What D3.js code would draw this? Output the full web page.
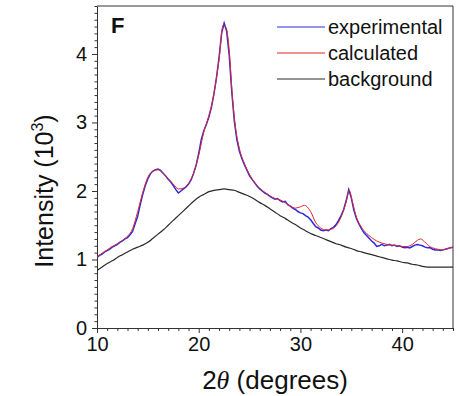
<!DOCTYPE html>
<html>
<head>
<meta charset="utf-8">
<script src="https://cdn.jsdelivr.net/npm/d3@7"></script>
<style>
  html, body { margin: 0; padding: 0; background: #fff; }
  svg { display: block; font-family: "Liberation Sans", Arial, sans-serif; }
</style>
</head>
<body>
<svg id="chart" width="460" height="396"></svg>
<script>
// X-ray diffraction pattern: experimental, calculated and background intensity (10^3 counts)
const expAngle = [10.00,10.25,10.50,10.75,11.00,11.25,11.50,11.75,12.00,12.25,12.50,12.75,13.00,13.25,13.50,13.75,14.00,14.25,14.50,14.75,15.00,15.25,15.50,15.75,16.00,16.25,16.50,16.75,17.00,17.25,17.50,17.75,18.00,18.25,18.50,18.75,19.00,19.25,19.50,19.75,20.00,20.25,20.50,20.75,21.00,21.25,21.50,21.75,22.00,22.25,22.50,22.75,23.00,23.25,23.50,23.75,24.00,24.25,24.50,24.75,25.00,25.25,25.50,25.75,26.00,26.25,26.50,26.75,27.00,27.25,27.50,27.75,28.00,28.25,28.50,28.75,29.00,29.25,29.50,29.75,30.00,30.25,30.50,30.75,31.00,31.25,31.50,31.75,32.00,32.25,32.50,32.75,33.00,33.25,33.50,33.75,34.00,34.25,34.50,34.75,35.00,35.25,35.50,35.75,36.00,36.25,36.50,36.75,37.00,37.25,37.50,37.75,38.00,38.25,38.50,38.75,39.00,39.25,39.50,39.75,40.00,40.25,40.50,40.75,41.00,41.25,41.50,41.75,42.00,42.25,42.50,42.75,43.00,43.25,43.50,43.75,44.00,44.25,44.50,44.75,45.00];
const expIntensity = [1.03,1.06,1.08,1.11,1.13,1.15,1.18,1.20,1.22,1.25,1.27,1.30,1.32,1.36,1.41,1.52,1.63,1.80,1.95,2.08,2.18,2.25,2.29,2.31,2.32,2.30,2.26,2.22,2.17,2.13,2.08,2.02,1.97,2.00,2.03,2.06,2.10,2.16,2.26,2.38,2.55,2.75,2.88,2.97,3.08,3.22,3.42,3.66,3.95,4.30,4.45,4.33,3.98,3.45,3.02,2.75,2.58,2.47,2.38,2.30,2.22,2.17,2.12,2.07,2.03,2.00,1.97,1.95,1.92,1.90,1.88,1.89,1.86,1.84,1.85,1.80,1.78,1.75,1.73,1.70,1.68,1.67,1.64,1.62,1.58,1.53,1.48,1.46,1.43,1.42,1.43,1.42,1.45,1.47,1.51,1.57,1.64,1.73,1.86,2.02,1.90,1.72,1.60,1.52,1.45,1.39,1.35,1.31,1.27,1.24,1.19,1.20,1.22,1.20,1.21,1.22,1.20,1.21,1.19,1.20,1.18,1.17,1.18,1.17,1.19,1.21,1.22,1.21,1.20,1.18,1.17,1.17,1.15,1.14,1.14,1.13,1.14,1.15,1.16,1.17,1.18];

const calcAngle = [10.0,10.5,11.0,11.5,12.0,12.5,13.0,13.5,14.0,14.5,15.0,15.5,16.0,16.5,17.0,17.5,18.0,18.5,19.0,19.5,20.0,20.5,21.0,21.5,22.0,22.4,22.7,23.0,23.3,23.6,24.0,24.5,25.0,25.5,26.0,26.5,27.0,27.5,28.0,28.5,29.0,29.5,30.0,30.4,31.0,31.5,32.0,32.5,33.0,33.5,34.0,34.5,34.8,35.1,35.5,36.0,36.5,37.0,37.5,38.0,38.5,39.0,39.5,40.0,40.5,41.0,41.5,41.8,42.2,42.6,43.0,43.5,44.0,44.5,45.0];
const calcIntensity = [1.04,1.09,1.14,1.19,1.23,1.28,1.34,1.45,1.70,1.98,2.20,2.29,2.31,2.26,2.18,2.10,2.03,2.04,2.11,2.26,2.52,2.86,3.10,3.42,3.92,4.42,4.38,4.05,3.40,2.95,2.62,2.40,2.24,2.12,2.04,1.98,1.93,1.89,1.87,1.83,1.78,1.75,1.77,1.79,1.70,1.54,1.46,1.43,1.44,1.49,1.62,1.84,2.01,1.85,1.62,1.47,1.38,1.32,1.27,1.24,1.22,1.21,1.20,1.19,1.19,1.22,1.28,1.30,1.26,1.20,1.17,1.15,1.14,1.16,1.18];

const bgAngle = [10,10.5,11,11.5,12,12.5,13,13.5,14,14.5,15,15.5,16,16.5,17,17.5,18,18.5,19,19.5,20,20.5,21,21.5,22,22.5,23,23.5,24,24.5,25,25.5,26,26.5,27,27.5,28,28.5,29,29.5,30,30.5,31,31.5,32,32.5,33,33.5,34,34.5,35,35.5,36,36.5,37,37.5,38,38.5,39,39.5,40,40.5,41,41.5,42,42.5,43,44,45];
const bgIntensity = [0.84,0.89,0.94,0.98,1.03,1.07,1.11,1.15,1.18,1.21,1.25,1.31,1.37,1.43,1.50,1.57,1.64,1.71,1.78,1.85,1.91,1.95,1.99,2.01,2.02,2.03,2.02,2.01,1.98,1.95,1.92,1.88,1.83,1.79,1.74,1.69,1.64,1.60,1.55,1.51,1.46,1.42,1.38,1.35,1.32,1.29,1.26,1.23,1.21,1.18,1.16,1.13,1.11,1.09,1.07,1.05,1.03,1.01,0.99,0.98,0.96,0.95,0.93,0.92,0.90,0.89,0.89,0.89,0.89];

const xTicks = [10, 20, 30, 40];
const yTicks = [0, 1, 2, 3, 4];
const legendLabels = ["experimental", "calculated", "background"];
const seriesColors = ["#2b2bdc", "#e2262a", "#2a2a2a"];

const svg = d3.select("#chart");
const margin = { left: 97, right: 7, top: 6, bottom: 68 };
const W = 460, H = 396;
const x = d3.scaleLinear().domain([10, 45]).range([margin.left, W - margin.right]);
const y = d3.scaleLinear().domain([0, 4.7]).range([H - margin.bottom, margin.top]);

const axisColor = "#333";

// Minor ticks
const xMinor = d3.range(10, 45.01, 1).filter(v => !xTicks.includes(v));
const yMinor = d3.range(0, 4.71, 0.1).map(v => +v.toFixed(1)).filter(v => !yTicks.includes(v));

svg.append("g")
  .attr("transform", `translate(0,${y(0)})`)
  .call(d3.axisBottom(x).tickValues(xMinor).tickSize(3).tickFormat(""))
  .call(g => g.select(".domain").remove())
  .call(g => g.selectAll("line").attr("stroke", axisColor));

svg.append("g")
  .attr("transform", `translate(${x(10)},0)`)
  .call(d3.axisLeft(y).tickValues(yMinor).tickSize(2.5).tickFormat(""))
  .call(g => g.select(".domain").remove())
  .call(g => g.selectAll("line").attr("stroke", axisColor));

// Major axes
const xAxis = svg.append("g")
  .attr("transform", `translate(0,${y(0)})`)
  .call(d3.axisBottom(x).tickValues(xTicks).tickSize(5).tickSizeOuter(0).tickPadding(4).tickFormat(d3.format("d")));
xAxis.selectAll("text").attr("font-size", 20).attr("fill", "#111").attr("font-family", "Liberation Sans, Arial, sans-serif");

const yAxis = svg.append("g")
  .attr("transform", `translate(${x(10)},0)`)
  .call(d3.axisLeft(y).tickValues(yTicks).tickSize(5).tickSizeOuter(0).tickPadding(5).tickFormat(d3.format("d")));
yAxis.selectAll("text").attr("font-size", 20).attr("fill", "#111").attr("font-family", "Liberation Sans, Arial, sans-serif");

[xAxis, yAxis].forEach(g => {
  g.selectAll("line").attr("stroke", axisColor);
  g.select(".domain").attr("stroke", axisColor);
});

// Frame: top and right edges
svg.append("path")
  .attr("d", `M${x(10)},${y(4.7)}H${x(45)}V${y(0)}`)
  .attr("fill", "none").attr("stroke", axisColor).attr("stroke-width", 1);

// Curves
const clip = svg.append("clipPath").attr("id", "plotArea")
  .append("rect").attr("x", x(10)).attr("y", y(4.7)).attr("width", x(45) - x(10)).attr("height", y(0) - y(4.7));

const line = d3.line().x(d => x(d[0])).y(d => y(d[1]));
const smooth = d3.line().x(d => x(d[0])).y(d => y(d[1])).curve(d3.curveMonotoneX);

const plot = svg.append("g").attr("clip-path", "url(#plotArea)");
plot.append("path")
  .datum(d3.zip(bgAngle, bgIntensity))
  .attr("d", smooth).attr("fill", "none").attr("stroke", seriesColors[2]).attr("stroke-width", 1.2);
plot.append("path")
  .datum(d3.zip(expAngle, expIntensity))
  .attr("d", line).attr("fill", "none").attr("stroke", seriesColors[0]).attr("stroke-width", 1.5);
plot.append("path")
  .datum(d3.zip(calcAngle, calcIntensity))
  .attr("d", smooth).attr("fill", "none").attr("stroke", seriesColors[1]).attr("stroke-width", 1);

// Legend
const legend = svg.append("g");
legendLabels.forEach((label, i) => {
  const ly = 27 + i * 26;
  legend.append("line")
    .attr("x1", 277).attr("x2", 325).attr("y1", ly).attr("y2", ly)
    .attr("stroke", seriesColors[i]).attr("stroke-width", 1.2);
  legend.append("text")
    .attr("x", 328).attr("y", ly).attr("dy", "0.35em")
    .attr("font-size", 20).attr("fill", "#111")
    .text(label);
});

// Panel letter
svg.append("text")
  .attr("x", 111).attr("y", 33)
  .attr("font-size", 22).attr("font-weight", "bold").attr("fill", "#111")
  .text("F");

// Axis titles
const xTitle = svg.append("text")
  .attr("x", (x(10) + x(45)) / 2).attr("y", 389)
  .attr("text-anchor", "middle").attr("font-size", 26).attr("fill", "#111");
xTitle.append("tspan").text("2");
xTitle.append("tspan").attr("font-family", "Liberation Serif, DejaVu Serif, serif").attr("font-style", "italic").text("θ");
xTitle.append("tspan").text(" (degrees)");

const yTitle = svg.append("text")
  .attr("transform", `translate(53,${191}) rotate(-90)`)
  .attr("text-anchor", "middle").attr("font-size", 25).attr("fill", "#111");
yTitle.append("tspan").text("Intensity (10");
yTitle.append("tspan").attr("font-size", 16).attr("dy", "-0.6em").text("3");
yTitle.append("tspan").attr("dy", "0.4em").text(")");
</script>
</body>
</html>
